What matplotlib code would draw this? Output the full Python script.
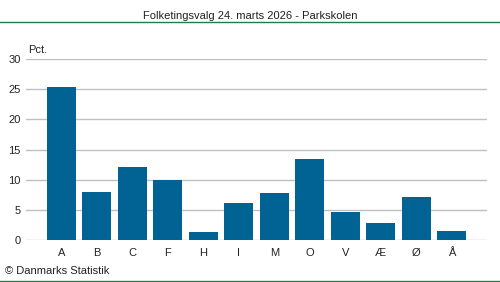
import matplotlib
matplotlib.use("Agg")
import matplotlib.pyplot as plt
from matplotlib.lines import Line2D

plt.rcParams["font.family"] = ["Liberation Sans", "DejaVu Sans"]

parties = ["A", "B", "C", "F", "H", "I", "M", "O", "V", "Æ", "Ø", "Å"]
shares = [25.4, 8.0, 12.1, 10.0, 1.3, 6.1, 7.8, 13.4, 4.6, 2.8, 7.1, 1.5]
yticks = [0, 5, 10, 15, 20, 25, 30]

BAR = "#006394"
GRID = "#bfbfc8"
GREEN = "#1e8040"


def main():
    fig = plt.figure(figsize=(5, 2.82), dpi=100)
    ax = fig.add_axes([0.052, 0.149, 0.922, 0.641])

    x = list(range(len(parties)))
    ax.bar(x, shares, width=0.82, color=BAR, zorder=3)
    ax.set_xlim(-1, len(parties))
    ax.set_ylim(0, 30)
    ax.set_yticks(yticks)
    ax.set_xticks(x)
    ax.set_xticklabels(parties)
    ax.yaxis.grid(True, color=GRID, linewidth=1)
    ax.set_axisbelow(True)
    for s in ax.spines.values():
        s.set_visible(False)
    ax.tick_params(length=0, labelsize=8, colors="#222222")
    ax.tick_params(axis="y", pad=4)
    ax.tick_params(axis="x", pad=6)

    fig.text(0.5, 0.945, "Folketingsvalg 24. marts 2026 - Parkskolen",
             ha="center", va="center", fontsize=8, color="#222222")
    fig.text(0.056, 0.822, "Pct.", ha="left", va="center", fontsize=8, color="#222222")
    fig.text(0.01, 0.038, "© Danmarks Statistik", ha="left", va="center",
             fontsize=8, color="#222222")

    fig.add_artist(Line2D([0, 1], [0.922, 0.922], transform=fig.transFigure,
                          color=GREEN, linewidth=1))
    fig.add_artist(Line2D([0, 1], [0.003, 0.003], transform=fig.transFigure,
                          color=GREEN, linewidth=1))

    fig.savefig("out.png", dpi=100)


if __name__ == "__main__":
    main()
